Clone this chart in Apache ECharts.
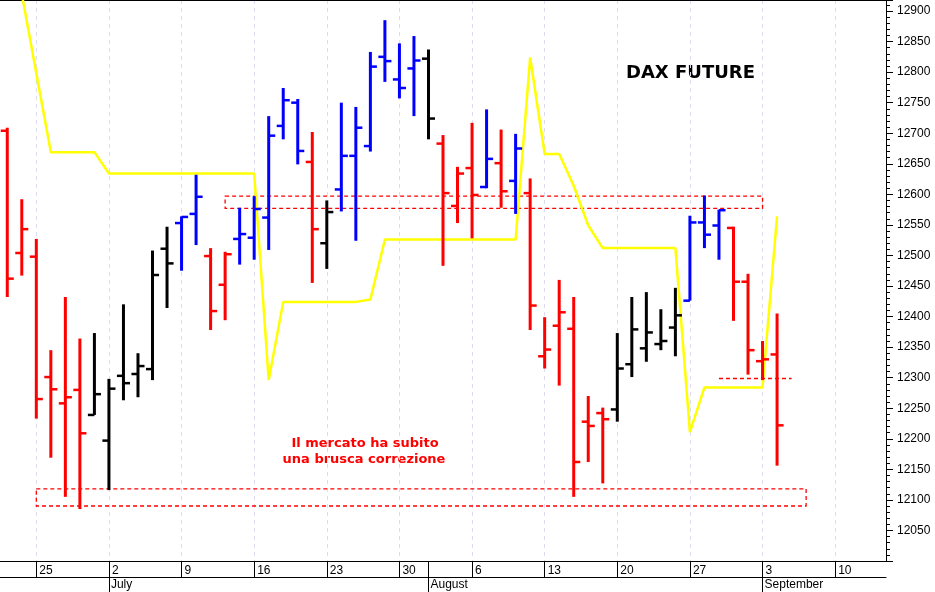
<!DOCTYPE html>
<html><head><meta charset="utf-8">
<script src="https://cdn.jsdelivr.net/npm/echarts@6/dist/echarts.min.js"></script>
<style>html,body{margin:0;padding:0;background:#fff}#c{width:935px;height:592px}</style>
</head><body><div id="c"></div>
<script>
// Trading days shown on the axis (2018)
const dates = [
 '2018-06-21','2018-06-22','2018-06-25','2018-06-26','2018-06-27','2018-06-28','2018-06-29',
 '2018-07-02','2018-07-03','2018-07-04','2018-07-05','2018-07-06',
 '2018-07-09','2018-07-10','2018-07-11','2018-07-12','2018-07-13',
 '2018-07-16','2018-07-17','2018-07-18','2018-07-19','2018-07-20',
 '2018-07-23','2018-07-24','2018-07-25','2018-07-26','2018-07-27',
 '2018-07-30','2018-07-31','2018-08-01','2018-08-02','2018-08-03',
 '2018-08-06','2018-08-07','2018-08-08','2018-08-09','2018-08-10',
 '2018-08-13','2018-08-14','2018-08-15','2018-08-16','2018-08-17',
 '2018-08-20','2018-08-21','2018-08-22','2018-08-23','2018-08-24',
 '2018-08-27','2018-08-28','2018-08-29','2018-08-30','2018-08-31',
 '2018-09-03','2018-09-04','2018-09-05','2018-09-06','2018-09-07',
 '2018-09-10','2018-09-11','2018-09-12','2018-09-13'
];
const monthNames = ['January','February','March','April','May','June','July','August','September','October','November','December'];

// OHLC values (one per trading day, from 21 June to 4 September)
const open  = [12704,12504,12498,12301,12258,12280,12239,12197,12303,12306,12314,12511,12553,12568,12499,12452,12527,12529,12562,12712,12750,12653,12520,12608,12663,12679,12825,12788,12806,12822,12683,12581,12643,12612,12651,12622,12602,12335,12385,12380,12228,12242,12248,12322,12348,12355,12382,12426,12554,12549,12545,12457,12327,12338];
const high  = [12709,12592,12527,12345,12432,12364,12373,12298,12420,12340,12508,12547,12564,12632,12512,12506,12578,12597,12728,12774,12756,12702,12590,12750,12743,12833,12885,12847,12859,12837,12697,12645,12717,12739,12706,12699,12626,12399,12460,12432,12270,12251,12373,12432,12440,12412,12447,12565,12598,12575,12547,12470,12360,12405];
const low   = [12432,12467,12233,12169,12105,12085,12239,12116,12263,12268,12296,12414,12475,12517,12378,12394,12485,12493,12509,12690,12649,12455,12478,12572,12524,12670,12784,12757,12728,12690,12483,12553,12528,12610,12578,12568,12378,12315,12287,12105,12162,12127,12228,12301,12326,12345,12335,12426,12512,12493,12393,12305,12296,12156];
const close = [12462,12543,12265,12281,12268,12209,12273,12282,12291,12319,12468,12487,12563,12596,12409,12502,12535,12576,12696,12754,12671,12543,12571,12663,12709,12809,12818,12774,12819,12724,12602,12634,12599,12658,12605,12675,12418,12346,12407,12162,12221,12232,12315,12379,12374,12360,12402,12554,12534,12574,12457,12345,12330,12222];
// bar state: R = bearish, B = bullish, K = neutral
const signal = ['R','R','R','R','R','R','K','K','K','K','K','K','B','B','R','R','B','B','B','B','B','R','K','B','B','B','B','B','B','K','R','R','R','B','R','B','R','R','R','R','R','R','K','K','K','K','K','B','B','B','R','R','R','R'];
// yellow stop line
const stopLine = [12990,12928,12798,12669,12669,12669,12669,12634,12634,12634,12634,12634,12634,12634,12634,12634,12634,12634,12296,12424,12424,12424,12424,12424,12424,12428,12526,12526,12526,12526,12526,12526,12526,12526,12526,12526,12824,12666,12666,12614,12549,12512,12512,12512,12512,12512,12512,12211,12284,12284,12284,12284,12284,12564];

// annotation zones
const resistanceZone = {from: '2018-07-12', to: '2018-09-03', top: 12597, bottom: 12577};
const supportZone    = {from: '2018-06-25', to: '2018-09-06', top: 12118, bottom: 12090};
const pivotLevel     = {from: '2018-08-29', to: '2018-09-05', value: 12299};

const yMin = 12000, yMax = 12918, yStep = 50;

const colorOf = {R: '#ff0000', B: '#0000ff', K: '#000000'};
const parsed = dates.map(d => new Date(d + 'T12:00:00Z'));
const isMonday = i => parsed[i].getUTCDay() === 1;
const isMonthStart = i => i > 0 && parsed[i].getUTCMonth() !== parsed[i - 1].getUTCMonth();
const weekTick = i => isMonday(i) || isMonthStart(i);

const ohlc = open.map((o, i) => [i, o, high[i], low[i], close[i]]);

const chart = echarts.init(document.getElementById('c'));
const axisFont = {color: '#000', fontSize: 12, fontFamily: '"Liberation Sans", Arial, sans-serif'};
chart.setOption({
  animation: false,
  backgroundColor: '#fff',
  grid: {left: 0, right: 49, top: 0, bottom: 31, containLabel: false},
  xAxis: [
    {
      type: 'category', data: dates, position: 'bottom', boundaryGap: true,
      axisLine: {lineStyle: {color: '#000', width: 1}},
      axisTick: {show: true, alignWithLabel: true, length: 16, interval: (i) => weekTick(i), lineStyle: {color: '#000'}},
      axisLabel: Object.assign({
        interval: (i) => isMonday(i), align: 'left', margin: 4, padding: [0, 0, 0, 3],
        formatter: (v) => String(new Date(v + 'T12:00:00Z').getUTCDate())
      }, axisFont),
      splitLine: {show: true, alignWithLabel: true, interval: (i) => isMonday(i), lineStyle: {color: '#dcdcf2', type: [4, 4], width: 1}}
    },
    {
      type: 'category', data: dates, position: 'bottom', offset: 16, boundaryGap: true,
      axisLine: {lineStyle: {color: '#000', width: 1}},
      axisTick: {show: true, alignWithLabel: true, length: 16, interval: (i) => isMonthStart(i), lineStyle: {color: '#000'}},
      axisLabel: Object.assign({
        interval: (i) => isMonthStart(i), align: 'left', margin: 2, padding: [0, 0, 0, 2],
        formatter: (v) => monthNames[new Date(v + 'T12:00:00Z').getUTCMonth()]
      }, axisFont),
      splitLine: {show: false}
    },
    {
      type: 'category', data: dates, position: 'top', boundaryGap: true,
      axisLine: {lineStyle: {color: '#000', width: 1}},
      axisTick: {show: false}, axisLabel: {show: false}, splitLine: {show: false}
    }
  ],
  yAxis: {
    type: 'value', position: 'right', min: yMin, max: yMax, interval: yStep,
    axisLine: {show: true, lineStyle: {color: '#000'}},
    axisTick: {show: true, length: 7, lineStyle: {color: '#000'}},
    minorTick: {show: true, splitNumber: 5, length: 4, lineStyle: {color: '#000'}},
    axisLabel: Object.assign({margin: 11, formatter: (v) => (v % yStep === 0 && v > yMin) ? String(v) : ''}, axisFont),
    splitLine: {show: false}, minorSplitLine: {show: false}
  },
  series: [
    {
      type: 'line', data: stopLine, symbol: 'none', z: 2,
      lineStyle: {color: '#ffff00', width: 2.5},
      markArea: {
        silent: true,
        itemStyle: {color: 'rgba(0,0,0,0)', borderColor: '#ff0000', borderWidth: 1.3, borderType: [4, 3]},
        data: [
          [{xAxis: resistanceZone.from, yAxis: resistanceZone.top}, {xAxis: resistanceZone.to, yAxis: resistanceZone.bottom}],
          [{xAxis: supportZone.from, yAxis: supportZone.top}, {xAxis: supportZone.to, yAxis: supportZone.bottom}]
        ]
      },
      markLine: {
        silent: true, symbol: 'none', label: {show: false},
        lineStyle: {color: '#ff0000', width: 1.3, type: [4, 3]},
        data: [[{coord: [pivotLevel.from, pivotLevel.value]}, {coord: [pivotLevel.to, pivotLevel.value]}]]
      }
    },
    {
      type: 'custom', data: ohlc, z: 3,
      encode: {x: 0, y: [1, 2, 3, 4]},
      renderItem: function (params, api) {
        const i = api.value(0);
        const pO = api.coord([i, api.value(1)]);
        const pH = api.coord([i, api.value(2)]);
        const pL = api.coord([i, api.value(3)]);
        const pC = api.coord([i, api.value(4)]);
        const w = api.size([1, 0])[0] * 0.45;
        const col = colorOf[signal[params.dataIndex]];
        const st = {stroke: col, lineWidth: 3};
        return {type: 'group', children: [
          {type: 'line', shape: {x1: pH[0], y1: pH[1], x2: pL[0], y2: pL[1]}, style: st},
          {type: 'line', shape: {x1: pO[0] - w, y1: pO[1], x2: pO[0], y2: pO[1]}, style: {stroke: col, lineWidth: 2.5}},
          {type: 'line', shape: {x1: pC[0], y1: pC[1], x2: pC[0] + w, y2: pC[1]}, style: {stroke: col, lineWidth: 2.5}}
        ]};
      }
    }
  ],
  graphic: [
    {type: 'text', x: 626, y: 73, style: {text: 'DAX FUTURE', font: 'bold 18px "DejaVu Sans", Verdana, sans-serif', fill: '#000', textAlign: 'left', textVerticalAlign: 'middle'}},
    {type: 'text', x: 365, y: 444, style: {text: 'Il mercato ha subito', font: 'bold 13px "DejaVu Sans", Verdana, sans-serif', fill: '#ff0000', textAlign: 'center', textVerticalAlign: 'middle'}},
    {type: 'text', x: 364, y: 460, style: {text: 'una brusca correzione', font: 'bold 13px "DejaVu Sans", Verdana, sans-serif', fill: '#ff0000', textAlign: 'center', textVerticalAlign: 'middle'}}
  ]
});
</script></body></html>
